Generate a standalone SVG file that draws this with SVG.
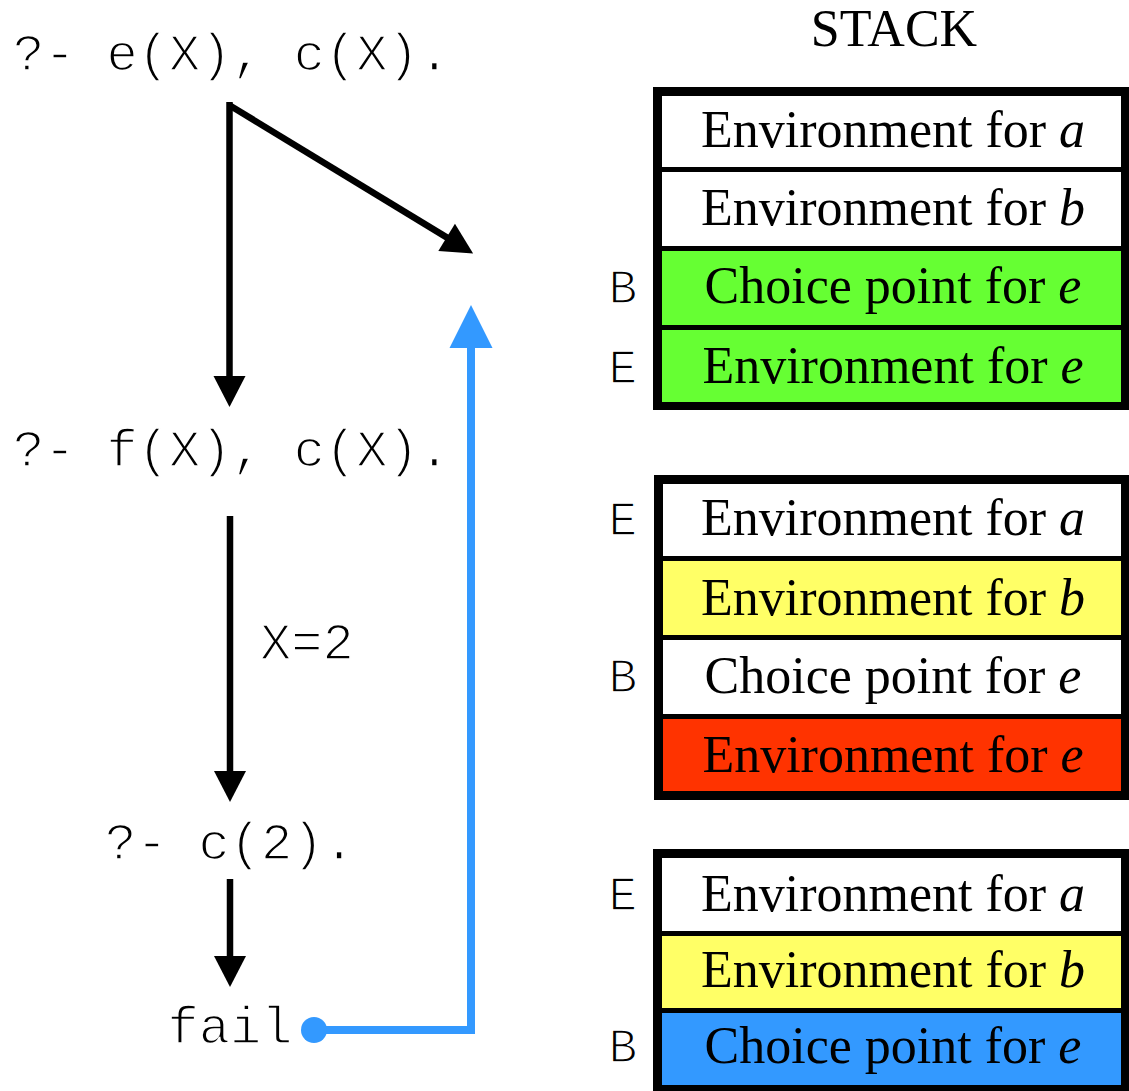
<svg xmlns="http://www.w3.org/2000/svg" width="1129" height="1091" viewBox="0 0 1129 1091">
  <style>
    .code { font-family: "Liberation Mono", "Courier New", monospace; font-size: 52px; fill: #000; stroke: #fff; stroke-width: 1.6px; }
    .reg { font-family: "Liberation Mono", "Courier New", monospace; font-size: 48px; fill: #000; stroke: #fff; stroke-width: 1.5px; text-anchor: middle; }
    .cell { font-family: "Liberation Serif", "Times New Roman", serif; font-size: 52px; fill: #000; text-anchor: middle; }
    .title { font-family: "Liberation Serif", "Times New Roman", serif; font-size: 52px; fill: #000; text-anchor: middle; }
    .frame { fill: #000; }
    .white { fill: #fff; }
    .green { fill: #66ff33; }
    .yellow { fill: #ffff66; }
    .red { fill: #ff3300; }
    .blue { fill: #3399ff; }
    .flow { stroke: #000; stroke-width: 6.5; fill: none; marker-end: url(#head); }
    .back { stroke: #3399ff; stroke-width: 8; fill: none; marker-end: url(#headBlue); }
  </style>
  <defs>
    <marker id="head" markerUnits="userSpaceOnUse" markerWidth="32" markerHeight="32" refX="1" refY="16" orient="auto" overflow="visible">
      <path d="M0,0 L31,16 L0,32 z" fill="#000"/>
    </marker>
    <marker id="headBlue" markerUnits="userSpaceOnUse" markerWidth="44" markerHeight="44" refX="1" refY="21.5" orient="auto" overflow="visible">
      <path d="M0,0 L43,21.5 L0,43 z" fill="#3399ff"/>
    </marker>
  </defs>

  <rect width="1129" height="1091" fill="#fff"/>

  <!-- resolution steps -->
  <g id="goal-e"><text class="code" x="13" y="70" xml:space="preserve">?- e(X), c(X).</text></g>
  <g id="goal-f"><text class="code" x="13" y="466" xml:space="preserve">?- f(X), c(X).</text></g>
  <g id="goal-c"><text class="code" x="105" y="859" xml:space="preserve">?- c(2).</text></g>
  <g id="goal-fail"><text class="code" x="230" y="1043" text-anchor="middle">fail</text></g>

  <!-- connectors -->
  <g id="connectors">
    <line class="flow" x1="229.5" y1="102" x2="229.5" y2="377"/>
    <line class="flow" x1="229" y1="105" x2="447.5" y2="237.9"/>
    <line class="flow" x1="230" y1="516" x2="230" y2="772"/>
    <text class="code" x="260" y="659">X=2</text>
    <line class="flow" x1="230" y1="879" x2="230" y2="957"/>
    <path class="back" d="M314,1030 H471 V347"/>
    <circle cx="314" cy="1030" r="13" class="blue"/>
  </g>

  <text class="title" x="894" y="46">STACK</text>

  <!-- stack after calling e -->
  <g id="stack-1">
    <rect class="frame" x="653" y="87" width="480" height="323"/>
    <rect class="white" x="662" y="96" width="459" height="71"/>
    <rect class="white" x="662" y="172" width="459" height="74"/>
    <rect class="green" x="662" y="251" width="459" height="74"/>
    <rect class="green" x="662" y="330" width="459" height="72"/>
    <text class="cell" x="893" y="147">Environment for <tspan font-style="italic">a</tspan></text>
    <text class="cell" x="893" y="225">Environment for <tspan font-style="italic">b</tspan></text>
    <text class="cell" x="893" y="303">Choice point for <tspan font-style="italic">e</tspan></text>
    <text class="cell" x="893" y="383">Environment for <tspan font-style="italic">e</tspan></text>
    <text class="reg" x="623" y="303">B</text>
    <text class="reg" x="623" y="383">E</text>
  </g>

  <!-- stack after e returns -->
  <g id="stack-2">
    <rect class="frame" x="654" y="475" width="480" height="325"/>
    <rect class="white" x="663" y="484" width="458" height="72"/>
    <rect class="yellow" x="663" y="561" width="458" height="74"/>
    <rect class="white" x="663" y="640" width="458" height="74"/>
    <rect class="red" x="663" y="719" width="458" height="72"/>
    <text class="cell" x="893" y="535">Environment for <tspan font-style="italic">a</tspan></text>
    <text class="cell" x="893" y="615">Environment for <tspan font-style="italic">b</tspan></text>
    <text class="cell" x="893" y="693">Choice point for <tspan font-style="italic">e</tspan></text>
    <text class="cell" x="893" y="772">Environment for <tspan font-style="italic">e</tspan></text>
    <text class="reg" x="623" y="535">E</text>
    <text class="reg" x="623" y="692">B</text>
  </g>

  <!-- stack on backtracking -->
  <g id="stack-3">
    <rect class="frame" x="653" y="849" width="480" height="250"/>
    <rect class="white" x="662" y="858" width="459" height="73"/>
    <rect class="yellow" x="662" y="936" width="459" height="72"/>
    <rect class="blue" x="662" y="1013" width="459" height="72"/>
    <text class="cell" x="893" y="911">Environment for <tspan font-style="italic">a</tspan></text>
    <text class="cell" x="893" y="987">Environment for <tspan font-style="italic">b</tspan></text>
    <text class="cell" x="893" y="1063">Choice point for <tspan font-style="italic">e</tspan></text>
    <text class="reg" x="623" y="910">E</text>
    <text class="reg" x="623" y="1062">B</text>
  </g>
</svg>
